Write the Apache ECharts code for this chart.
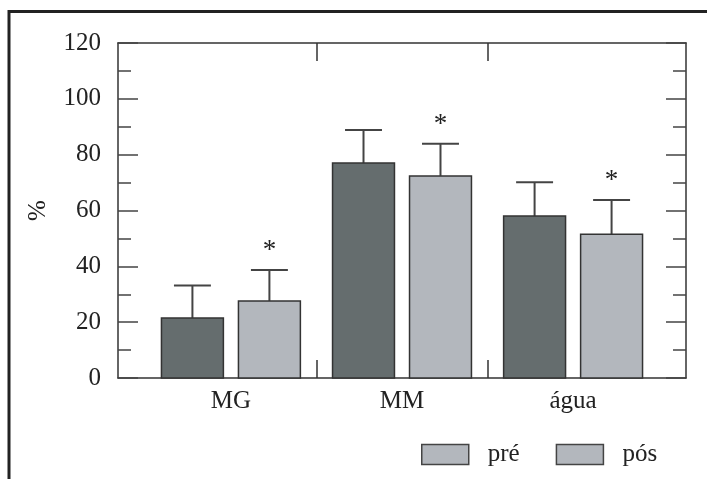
<!DOCTYPE html>
<html><head><meta charset="utf-8">
<script src="https://cdn.jsdelivr.net/npm/echarts@6/dist/echarts.min.js"></script>
<style>html,body{margin:0;padding:0;background:#fff}#c{width:707px;height:479px}</style>
</head><body><div id="c"></div>
<script>
// ---- data ----
const categories = ['MG', 'MM', 'água'];
const seriesNames = ['pré', 'pós'];
const preValues = [21.5, 77, 58];
const preSD = [11.6, 11.8, 12.1];
const posValues = [27.6, 72.4, 51.5];
const posSD = [11.1, 11.5, 12.3];
const posSignificant = [1, 1, 1];
const yMin = 0, yMax = 120, yStep = 20;

// ---- style ----
const FONT = '"Liberation Serif", "Times New Roman", serif';
const DARK = '#656d6e', LIGHT = '#b3b7bd', INK = '#222';
const HALF = 0.181, OFFSET = 0.225, CAP = 0.108;

function makeRender(offset, color) {
  return function (params, api) {
    const c = api.value(0), v = api.value(1), sd = api.value(2), star = api.value(3);
    const xc = c + offset;
    const p0 = api.coord([xc - HALF, 0]);
    const p1 = api.coord([xc + HALF, v]);
    const pc = api.coord([xc, v]);
    const pe = api.coord([xc, v + sd]);
    const cl = api.coord([xc - CAP, v + sd]);
    const cr = api.coord([xc + CAP, v + sd]);
    const children = [
      { type: 'line', shape: { x1: pc[0], y1: pc[1], x2: pe[0], y2: pe[1] }, style: { stroke: '#444', lineWidth: 2 } },
      { type: 'line', shape: { x1: cl[0], y1: cl[1], x2: cr[0], y2: cr[1] }, style: { stroke: '#444', lineWidth: 2 } },
      { type: 'rect', shape: { x: p0[0], y: p1[1], width: p1[0] - p0[0], height: p0[1] - p1[1] },
        style: { fill: color, stroke: '#333', lineWidth: 1.5 } }
    ];
    if (star) {
      children.push({ type: 'text', style: { text: '*', x: pe[0], y: pe[1] - 19, align: 'center', verticalAlign: 'middle',
        font: '27px ' + FONT, fill: INK } });
    }
    return { type: 'group', children: children };
  };
}

const chart = echarts.init(document.getElementById('c'));
const xBase = {
  type: 'value', min: -0.66, max: 2.66,
  axisLine: { show: true, onZero: false, lineStyle: { color: '#333', width: 1.5 } },
  axisTick: { show: true, customValues: [0.5, 1.5], inside: true, length: 18, lineStyle: { color: '#333', width: 1.5 } },
  splitLine: { show: false }
};
const yBase = {
  type: 'value', min: yMin, max: yMax, interval: yStep,
  axisLine: { show: true, onZero: false, lineStyle: { color: '#333', width: 1.5 } },
  axisTick: { show: true, inside: true, length: 20, lineStyle: { color: '#444', width: 1.5 } },
  minorTick: { show: true, splitNumber: 2, length: 13, lineStyle: { color: '#444', width: 1.5 } },
  splitLine: { show: false }
};
chart.setOption({
  animation: false,
  backgroundColor: '#fff',
  grid: { left: 118, top: 43, right: 21, bottom: 101 },
  xAxis: [
    Object.assign({}, xBase, { position: 'bottom',
      axisLabel: { customValues: [0, 1, 2], formatter: v => categories[Math.round(v)] || '', fontFamily: FONT, fontSize: 25, color: INK, margin: 11 } }),
    Object.assign({}, xBase, { position: 'top', axisLabel: { show: false } })
  ],
  yAxis: [
    Object.assign({}, yBase, { position: 'left', name: '%', nameLocation: 'middle', nameRotate: 90, nameGap: 67,
      nameTextStyle: { fontFamily: FONT, fontSize: 25, color: INK },
      axisLabel: { fontFamily: FONT, fontSize: 25, color: INK, margin: 17 } }),
    Object.assign({}, yBase, { position: 'right', axisLabel: { show: false } })
  ],
  legend: {
    left: 421, top: 442, padding: 0, icon: 'rect', itemWidth: 47, itemHeight: 20, itemGap: 36,
    data: seriesNames.map(n => ({ name: n, itemStyle: { color: LIGHT, borderColor: '#444', borderWidth: 1.5 } })),
    textStyle: { fontFamily: FONT, fontSize: 25, color: INK, padding: [0, 0, 0, 14] }
  },
  graphic: [
    { type: 'line', shape: { x1: 9, y1: 11.5, x2: 707, y2: 11.5 }, style: { stroke: '#222', lineWidth: 3 } },
    { type: 'line', shape: { x1: 9, y1: 10, x2: 9, y2: 479 }, style: { stroke: '#222', lineWidth: 3 } }
  ],
  series: [
    { type: 'custom', name: seriesNames[0], coordinateSystem: 'cartesian2d', clip: false,
      itemStyle: { color: DARK }, renderItem: makeRender(-OFFSET, DARK),
      data: categories.map((_, i) => [i, preValues[i], preSD[i], 0]) },
    { type: 'custom', name: seriesNames[1], coordinateSystem: 'cartesian2d', clip: false,
      itemStyle: { color: LIGHT }, renderItem: makeRender(OFFSET, LIGHT),
      data: categories.map((_, i) => [i, posValues[i], posSD[i], posSignificant[i]]) }
  ]
});
</script></body></html>
